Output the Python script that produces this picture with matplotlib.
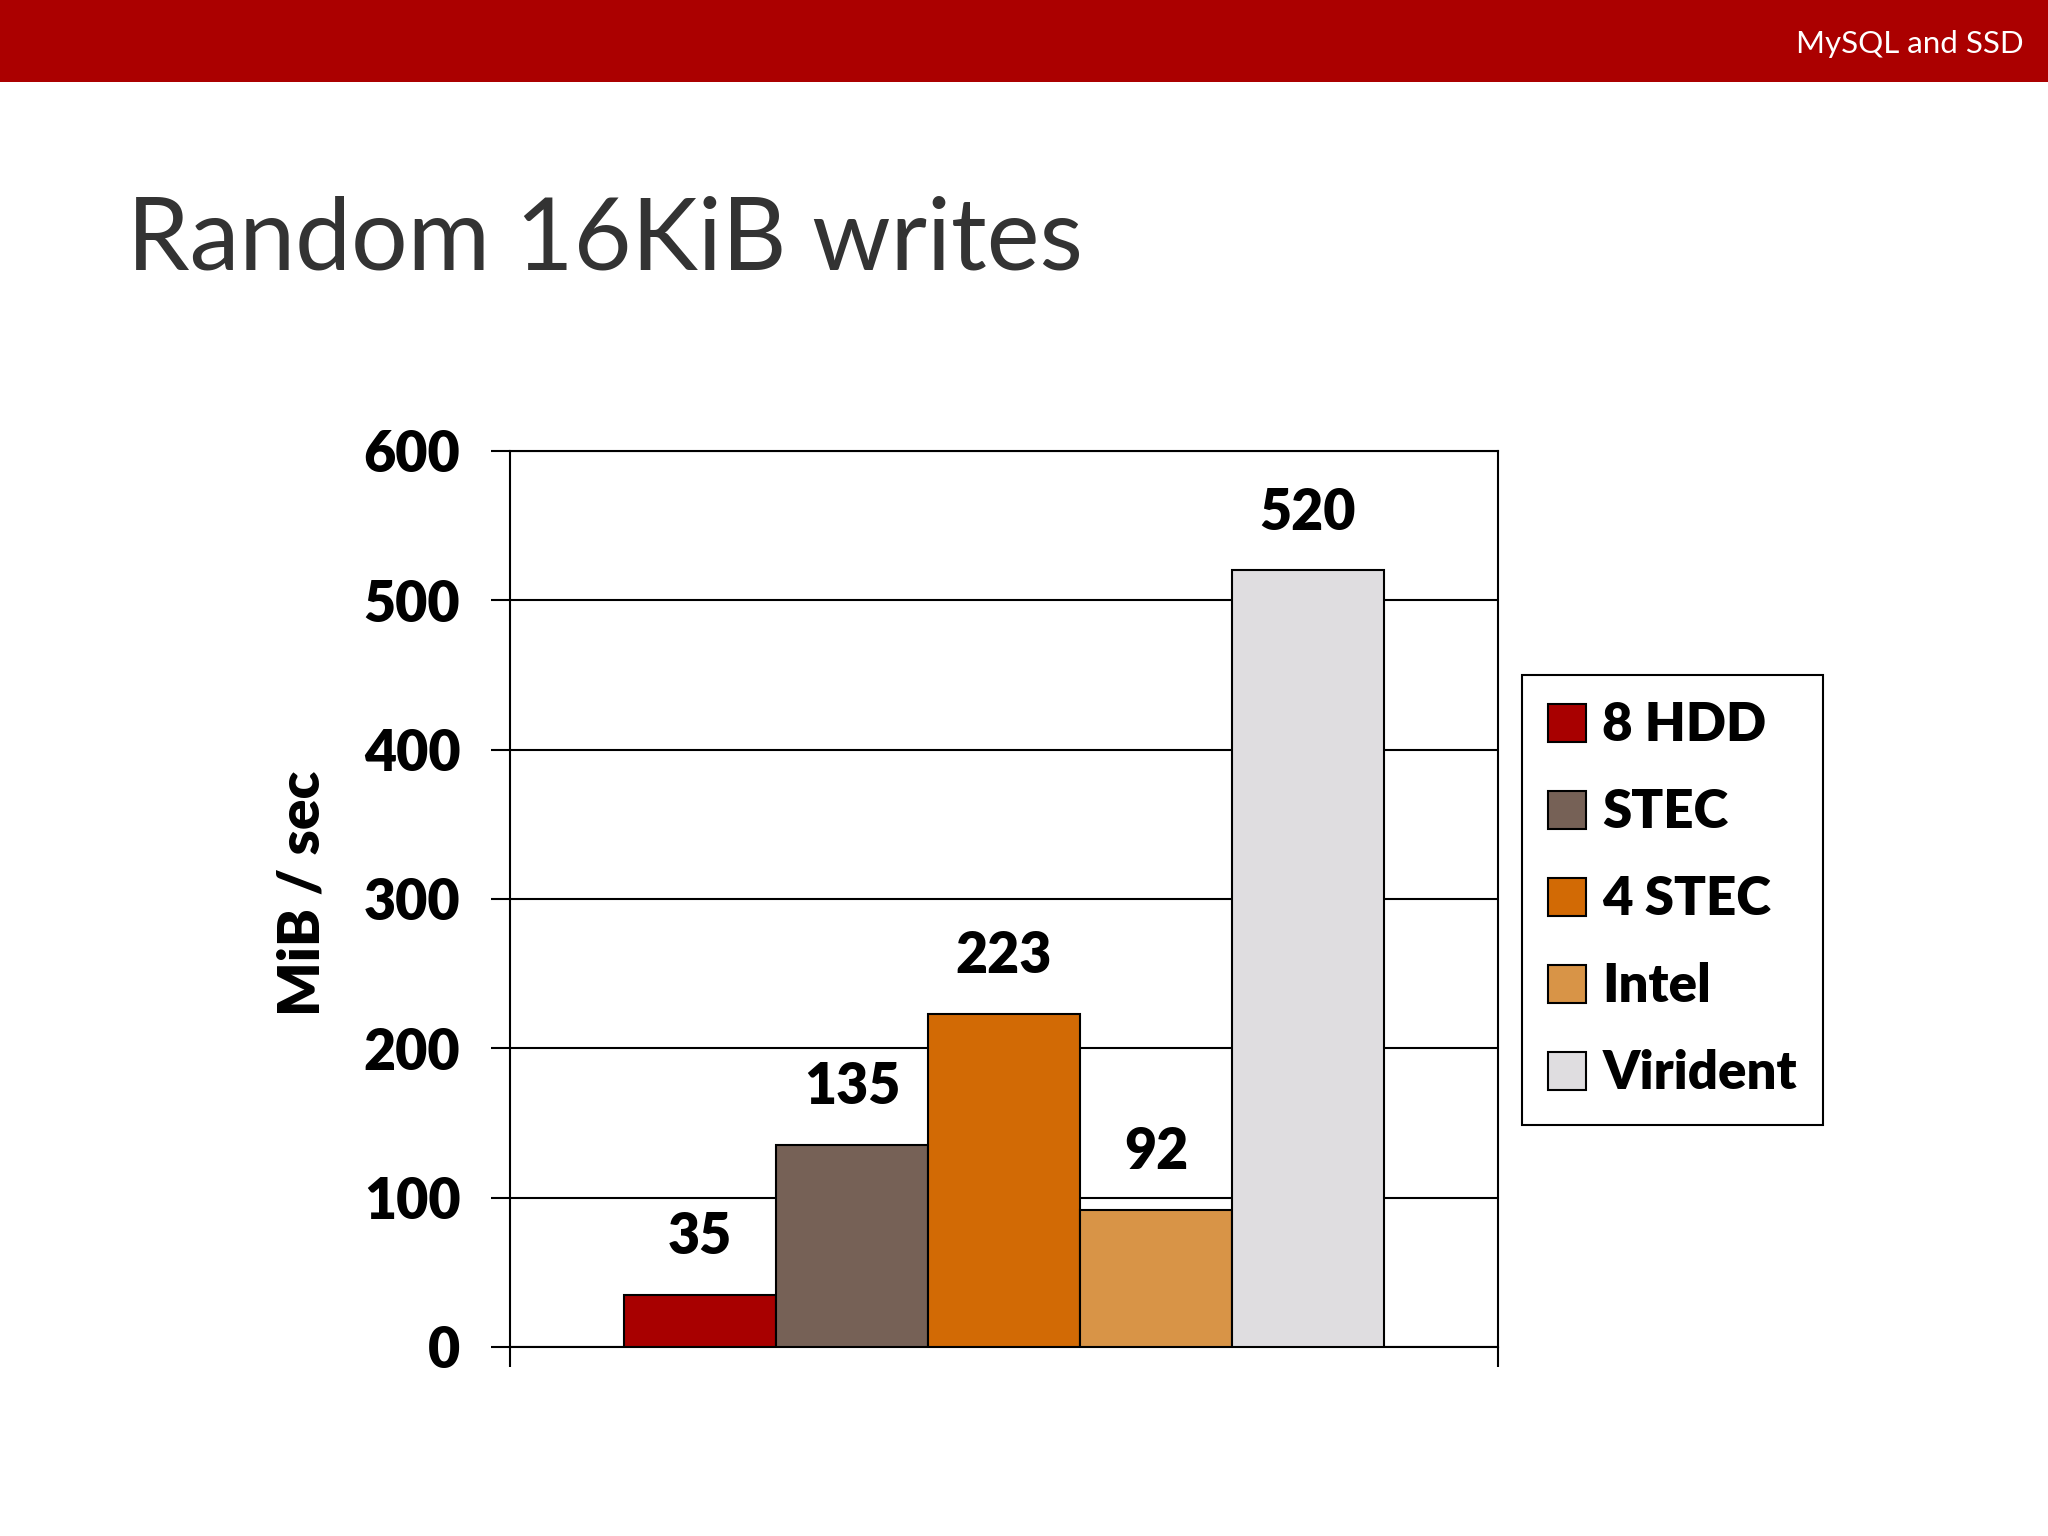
import matplotlib
matplotlib.use("Agg")
import matplotlib.pyplot as plt
from matplotlib.patches import Rectangle
import numpy as np

# ---- data ----
series = ["8 HDD", "STEC", "4 STEC", "Intel", "Virident"]
values = [35, 135, 223, 92, 520]
colors = ["#A80000", "#766156", "#D26A05", "#D89447", "#DFDDE0"]
yticks = [0, 100, 200, 300, 400, 500, 600]
title = "Random 16KiB writes"
header = "MySQL and SSD"
ylabel = "MiB / sec"

W, H = 2048, 1536
fig = plt.figure(figsize=(W / 100, H / 100), dpi=100)
fig.patch.set_facecolor("white")

BOLD = "heavy"

# header band
fig.add_artist(Rectangle((0, 1 - 82 / H), 1, 82 / H, transform=fig.transFigure,
                         facecolor="#AB0000", edgecolor="none", zorder=0))
fig.text(2024 / W, 1 - 53 / H, header, color="white", family="Lato",
         fontsize=22.5, ha="right", va="baseline")

# title
fig.text(127 / W, 1 - 270 / H, title, color="#333333", family="Lato",
         fontsize=72, ha="left", va="baseline")

ax = fig.add_axes([510 / W, 1 - 1347 / H, (1498 - 510) / W, (1347 - 451) / H])
x = np.arange(len(series))
bars = ax.bar(x, values, width=1.0, color=colors, edgecolor="black",
              linewidth=1.5, zorder=3, label=series)
for b, v in zip(bars, values):
    ax.annotate(str(v), (b.get_x() + b.get_width() / 2, v),
                xytext=(0, 23), textcoords="offset points",
                ha="center", va="bottom", fontsize=40, fontweight=BOLD,
                family="Lato", color="black")

ax.set_xlim(-1.25, len(series) + 0.25)
ax.set_ylim(0, 600)
ax.set_yticks(yticks)
ax.set_yticklabels([str(t) for t in yticks], fontsize=40, fontweight=BOLD,
                   family="Lato")
ax.set_xticks([-1.25, len(series) + 0.25])
ax.set_xticklabels(["", ""])
ax.tick_params(axis="y", direction="out", length=13.7, width=1.5, pad=22)
ax.tick_params(axis="x", direction="out", length=14.4, width=1.5)
ax.yaxis.grid(True, color="black", linewidth=1.5, zorder=0)
ax.set_axisbelow(True)
for s in ax.spines.values():
    s.set_color("black")
    s.set_linewidth(1.5)

fig.text(302 / W, 1 - 893 / H, ylabel, rotation=90, fontsize=41,
         fontweight=BOLD, family="Lato", ha="center", va="center")

leg = fig.legend(handles=list(bars), labels=series, loc="upper left",
                 bbox_to_anchor=(1522 / W, 1 - 675 / H), frameon=True,
                 fancybox=False, framealpha=1, edgecolor="black",
                 prop={"family": "Lato", "weight": BOLD, "size": 38},
                 handlelength=0.72, handleheight=0.72, handletextpad=0.3,
                 labelspacing=0.72, borderpad=0.5, borderaxespad=0)
leg.get_frame().set_linewidth(1.5)

fig.savefig("out.png", dpi=100)
